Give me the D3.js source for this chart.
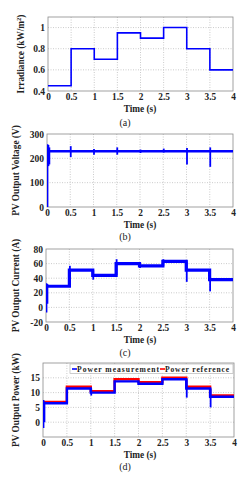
<!DOCTYPE html>
<html><head><meta charset="utf-8">
<script src="https://cdn.jsdelivr.net/npm/d3@7"></script>
<style>
html,body{margin:0;padding:0;background:#fff;}
svg{display:block;}
text{font-family:"Liberation Serif","Times New Roman",serif;}
</style></head>
<body>
<svg id="c" width="251" height="480"></svg>
<script>
// ---------- data ----------
const timeTicks = [0, 0.5, 1, 1.5, 2, 2.5, 3, 3.5, 4];
const timeTickLabels = ["0", "0.5", "1", "1.5", "2", "2.5", "3", "3.5", "4"];
const stepStarts = [0, 0.5, 1, 1.5, 2, 2.5, 3, 3.5];

// (a) irradiance levels
const irradiance = [0.45, 0.8, 0.7, 0.95, 0.9, 1.0, 0.8, 0.6];
const irrTicks = [0.4, 0.6, 0.8, 1];
const irrTickLabels = ["0.4", "0.6", "0.8", "1"];

// (b) voltage levels and transients [time, min, max]
const voltage = [229, 229, 229, 229, 229, 229, 229, 229];
const voltageSpikes = [[0, 0, 258], [0.02, 168, 255], [0.04, 175, 245], [0.5, 205, 250], [1, 215, 238], [1.5, 215, 245], [2, 222, 236], [2.5, 224, 240], [3, 175, 242], [3.5, 165, 245]];
const voltTicks = [0, 100, 200, 300];
const voltTickLabels = ["0", "100", "200", "300"];

// (c) current levels and transients
const current = [29, 51, 44, 60, 57, 63, 51, 38];
const currentSpikes = [[0, -7, 33], [0.02, 5, 32], [0.5, 28, 57], [1, 38, 51], [1.5, 44, 66], [2, 54, 60], [2.5, 57, 66], [3, 35, 63], [3.5, 22, 51]];
const curTicks = [-20, 0, 20, 40, 60, 80];
const curTickLabels = ["-20", "0", "20", "40", "60", "80"];

// (d) power reference, measurement, transients
const powerRef = [6.8, 12, 10.5, 14.5, 13.5, 15, 12, 9];
const powerMeas = [6.4, 11.4, 10, 13.8, 13, 14.5, 11.4, 8.6];
const powerSpikes = [[0, -2, 7.5], [0.02, 0, 7], [1, 9, 11.4], [3, 8.3, 14.5], [3.5, 5, 11.4]];
const powTicks = [0, 5, 10, 15];
const powTickLabels = ["0", "5", "10", "15"];
const legendLabels = ["Power measurement", "Power reference"];

const yLabels = ["Irradiance (kW/m", "PV Output Voltage (V)", "PV Output Current (A)", "PV Output Power (kW)"];
const captions = ["(a)", "(b)", "(c)", "(d)"];
const xLabel = "Time (s)";

// ---------- drawing ----------
const svg = d3.select("#c");
const BLUE = "#0000ff", RED = "#ff0000";

function stepPath(levels, x, y) {
  const pts = [];
  levels.forEach((v, i) => {
    const t0 = stepStarts[i];
    const t1 = i + 1 < stepStarts.length ? stepStarts[i + 1] : 4;
    pts.push([t0, v]); pts.push([t1, v]);
  });
  return d3.line().x(d => x(d[0])).y(d => y(d[1]))(pts);
}

function panel(o) {
  const x = d3.scaleLinear().domain([0, 4]).range([o.left, o.right]);
  const y = d3.scaleLinear().domain(o.ydom).range([o.bottom, o.top]);
  const g = svg.append("g");
  // grid
  g.append("g").selectAll("line").data(timeTicks.slice(1, -1)).join("line")
    .attr("x1", d => x(d)).attr("x2", d => x(d)).attr("y1", o.top).attr("y2", o.bottom)
    .attr("stroke", "#b5b5b5").attr("stroke-width", 0.7).attr("stroke-dasharray", "1,1.5");
  g.append("g").selectAll("line").data(o.yticks.filter(t => y(t) > o.top + 1 && y(t) < o.bottom - 1)).join("line")
    .attr("x1", o.left).attr("x2", o.right).attr("y1", d => y(d)).attr("y2", d => y(d))
    .attr("stroke", "#b5b5b5").attr("stroke-width", 0.7).attr("stroke-dasharray", "1,1.5");
  // frame
  g.append("rect").attr("x", o.left).attr("y", o.top).attr("width", o.right - o.left).attr("height", o.bottom - o.top)
    .attr("fill", "none").attr("stroke", "#8a8a8a").attr("stroke-width", 0.8);
  // axes ticks
  const xa = d3.axisBottom(x).tickValues(timeTicks).tickFormat((d, i) => timeTickLabels[i]).tickSize(0).tickPadding(2.5);
  const xg = g.append("g").attr("transform", `translate(0,${o.bottom})`).call(xa);
  xg.select(".domain").remove();
  xg.selectAll("text").attr("font-size", 9.3).attr("font-weight", "bold").attr("fill", "#222")
    .attr("font-family", "Liberation Serif, serif").attr("dy", "0.71em");
  const ya = d3.axisLeft(y).tickValues(o.yticks).tickFormat((d, i) => o.ylabels[i]).tickSize(0).tickPadding(3);
  const yg = g.append("g").attr("transform", `translate(${o.left},0)`).call(ya);
  yg.select(".domain").remove();
  yg.selectAll("text").attr("font-size", 9.5).attr("font-weight", "bold").attr("fill", "#222")
    .attr("font-family", "Liberation Serif, serif");
  // axis titles
  g.append("text").attr("x", 140).attr("y", o.bottom + 20.5).attr("text-anchor", "middle")
    .attr("font-size", 9.3).attr("font-weight", "bold").attr("fill", "#222").text(xLabel);
  const yt = g.append("text").attr("transform", `translate(${o.ylabX},${(o.top + o.bottom) / 2}) rotate(-90)`)
    .attr("text-anchor", "middle").attr("font-size", 9.3).attr("font-weight", "bold").attr("fill", "#222");
  yt.append("tspan").text(o.ytitle);
  if (o.sup) {
    yt.append("tspan").attr("font-size", 6.5).attr("dy", -3.5).text("2");
    yt.append("tspan").attr("dy", 3.5).text(")");
  }
  g.append("text").attr("x", 125).attr("y", o.capY).attr("text-anchor", "middle")
    .attr("font-size", 10).attr("fill", "#222").text(o.caption);
  const clip = "clip" + o.caption.replace(/\W/g, "");
  svg.append("clipPath").attr("id", clip).append("rect")
    .attr("x", o.left).attr("y", o.top).attr("width", o.right - o.left).attr("height", o.bottom - o.top);
  const pg = g.append("g").attr("clip-path", `url(#${clip})`);
  return { x, y, g: pg };
}

function spikes(p, arr, color, w) {
  p.g.append("g").selectAll("line").data(arr).join("line")
    .attr("x1", d => p.x(d[0]) + 0.5).attr("x2", d => p.x(d[0]) + 0.5)
    .attr("y1", d => p.y(d[1])).attr("y2", d => p.y(d[2]))
    .attr("stroke", color).attr("stroke-width", w);
}

// (a)
const pa = panel({ left: 48, right: 233, top: 17, bottom: 91, ydom: [0.4, 1.1], yticks: irrTicks, ylabels: irrTickLabels,
  ylabX: 24, ytitle: yLabels[0], sup: true, caption: captions[0], capY: 126 });
pa.g.append("path").attr("d", stepPath(irradiance, pa.x, pa.y)).attr("fill", "none").attr("stroke", BLUE).attr("stroke-width", 1.6);

// (b)
const pb = panel({ left: 47, right: 233, top: 134, bottom: 207, ydom: [0, 300], yticks: voltTicks, ylabels: voltTickLabels,
  ylabX: 19, ytitle: yLabels[1], caption: captions[1], capY: 240 });
pb.g.append("path").attr("d", stepPath(voltage, pb.x, pb.y)).attr("fill", "none").attr("stroke", BLUE).attr("stroke-width", 2.6);
spikes(pb, voltageSpikes, BLUE, 1.8);

// (c)
const pc = panel({ left: 46, right: 233, top: 249, bottom: 322, ydom: [-20, 80], yticks: curTicks, ylabels: curTickLabels,
  ylabX: 19, ytitle: yLabels[2], caption: captions[2], capY: 356 });
pc.g.append("path").attr("d", stepPath(current, pc.x, pc.y)).attr("fill", "none").attr("stroke", BLUE).attr("stroke-width", 3.2);
spikes(pc, currentSpikes, BLUE, 1.8);

// (d)
const pd = panel({ left: 43, right: 234, top: 363, bottom: 437, ydom: [-5, 20], yticks: powTicks, ylabels: powTickLabels,
  ylabX: 19, ytitle: yLabels[3], caption: captions[3], capY: 470 });
pd.g.append("path").attr("d", stepPath(powerRef, pd.x, pd.y)).attr("fill", "none").attr("stroke", RED).attr("stroke-width", 2.4);
pd.g.append("path").attr("d", stepPath(powerMeas, pd.x, pd.y)).attr("fill", "none").attr("stroke", BLUE).attr("stroke-width", 2.4);
spikes(pd, powerSpikes, BLUE, 1.8);

// legend
const lg = svg.append("g");
lg.append("rect").attr("x", 70).attr("y", 364).attr("width", 163).attr("height", 9.5)
  .attr("fill", "#fff").attr("stroke", "#aaa").attr("stroke-width", 0.6);
const legColors = [BLUE, RED];
const legX = [72, 160];
const legW = [84, 66];
legendLabels.forEach((t, i) => {
  lg.append("line").attr("x1", legX[i]).attr("x2", legX[i] + 5).attr("y1", 369).attr("y2", 369)
    .attr("stroke", legColors[i]).attr("stroke-width", 1.6);
  lg.append("text").attr("x", legX[i] + 5).attr("y", 372).attr("font-size", 7.6).attr("font-weight", "bold")
    .attr("fill", "#222").attr("textLength", legW[i] - 2).attr("lengthAdjust", "spacing").text(t);
});
</script>
</body></html>
